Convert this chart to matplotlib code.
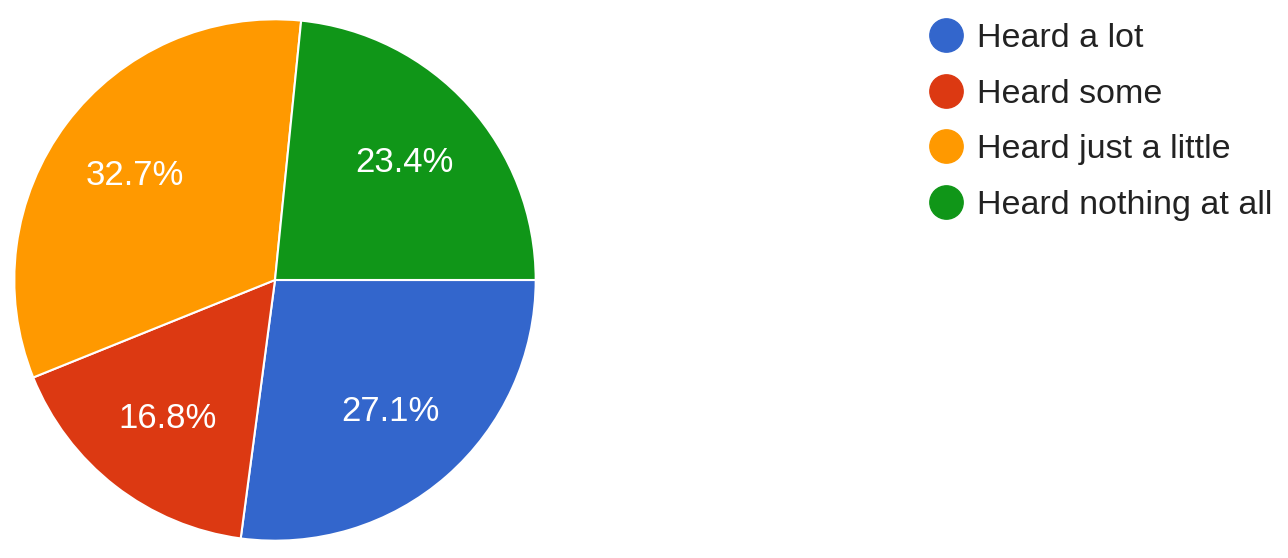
import matplotlib
matplotlib.use("Agg")
import matplotlib.pyplot as plt
from matplotlib.lines import Line2D

plt.rcParams["font.family"] = ["Liberation Sans", "DejaVu Sans"]

# survey answers (share of respondents, %)
labels = ["Heard a lot", "Heard some", "Heard just a little", "Heard nothing at all"]
shares = [27.1, 16.8, 32.7, 23.4]
colors = ["#3366CC", "#DC3912", "#FF9900", "#109618"]

fig = plt.figure(figsize=(12.88, 5.58), dpi=100)
ax = fig.add_axes([13 / 1288, 16 / 558, 524 / 1288, 524 / 558])

wedges, _, autotexts = ax.pie(
    shares, colors=colors, startangle=0, counterclock=False,
    autopct="%.1f%%", pctdistance=0.67,
    wedgeprops=dict(edgecolor="white", linewidth=1.5),
    textprops=dict(color="white", fontsize=25),
)
ax.set_xlim(-1.005, 1.005)
ax.set_ylim(-1.005, 1.005)
ax.set_aspect("equal")

handles = [Line2D([], [], marker="o", ls="", markersize=24,
                  markerfacecolor=c, markeredgecolor=c) for c in colors]
fig.legend(handles, labels, loc="upper left", bbox_to_anchor=(909 / 1288, 1 - 6 / 558),
           frameon=False, fontsize=24.5, labelspacing=0.72, handletextpad=0.3,
           handlelength=1.2, borderpad=0, labelcolor="#222222")

fig.savefig("out.png", dpi=100)
